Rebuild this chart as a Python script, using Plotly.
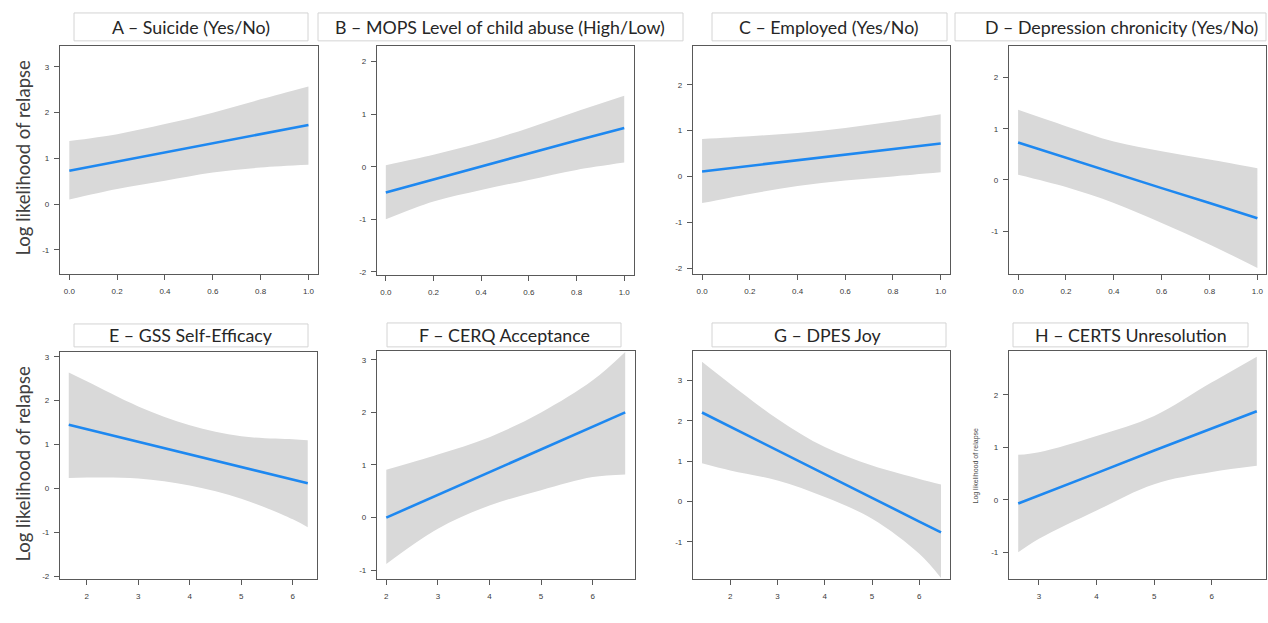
import plotly.graph_objects as go

# ---------------- data ----------------
titles = [
    "A – Suicide (Yes/No)",
    "B – MOPS Level of child abuse (High/Low)",
    "C – Employed (Yes/No)",
    "D – Depression chronicity (Yes/No)",
    "E – GSS Self-Efficacy",
    "F – CERQ Acceptance",
    "G – DPES Joy",
    "H – CERTS Unresolution",
]
y_label = "Log likelihood of relapse"

x_binary = [0.0, 0.2, 0.4, 0.6, 0.8, 1.0]
x_binary_labels = ["0.0", "0.2", "0.4", "0.6", "0.8", "1.0"]

A_fit = [0.73, 0.93, 1.13, 1.33, 1.53, 1.73]
A_lo = [0.10, 0.33, 0.51, 0.69, 0.80, 0.86]
A_hi = [1.38, 1.53, 1.75, 2.00, 2.29, 2.57]

B_fit = [-0.49, -0.24, 0.00, 0.25, 0.50, 0.74]
B_lo = [-1.00, -0.66, -0.44, -0.25, -0.06, 0.08]
B_hi = [0.03, 0.23, 0.46, 0.74, 1.05, 1.35]

C_fit = [0.11, 0.23, 0.35, 0.48, 0.60, 0.72]
C_lo = [-0.58, -0.38, -0.21, -0.09, 0.00, 0.09]
C_hi = [0.82, 0.88, 0.95, 1.06, 1.20, 1.36]

D_fit = [0.73, 0.43, 0.14, -0.16, -0.45, -0.75]
D_lo = [0.10, -0.14, -0.45, -0.84, -1.26, -1.72]
D_hi = [1.37, 1.05, 0.75, 0.56, 0.40, 0.23]

E_x = [1.65, 2, 3, 4, 5, 6, 6.29]
E_fit = [1.45, 1.35, 1.07, 0.78, 0.49, 0.20, 0.12]
E_lo = [0.24, 0.25, 0.23, 0.07, -0.23, -0.70, -0.88]
E_hi = [2.64, 2.44, 1.87, 1.44, 1.19, 1.12, 1.10]

F_x = [2, 3, 4, 5, 6, 6.63]
F_fit = [0.00, 0.43, 0.86, 1.30, 1.73, 2.00]
F_lo = [-0.88, -0.21, 0.23, 0.52, 0.77, 0.82]
F_hi = [0.91, 1.20, 1.53, 2.00, 2.61, 3.15]

G_x = [1.40, 2, 3, 4, 5, 6, 6.46]
G_fit = [2.21, 1.86, 1.27, 0.68, 0.09, -0.50, -0.77]
G_lo = [0.95, 0.77, 0.52, 0.11, -0.43, -1.30, -1.90]
G_hi = [3.47, 2.92, 2.05, 1.35, 0.89, 0.56, 0.42]

H_x = [2.64, 3, 4, 5, 6, 6.78]
H_fit = [-0.07, 0.08, 0.51, 0.94, 1.36, 1.69]
H_lo = [-1.00, -0.74, -0.20, 0.30, 0.53, 0.65]
H_hi = [0.86, 0.91, 1.22, 1.60, 2.24, 2.73]

yticks_A = [-1, 0, 1, 2, 3]
yticks_B = [-2, -1, 0, 1, 2]
yticks_C = [-2, -1, 0, 1, 2]
yticks_D = [-1, 0, 1, 2]
yticks_E = [-2, -1, 0, 1, 2, 3]
yticks_F = [-1, 0, 1, 2, 3]
yticks_G = [-1, 0, 1, 2, 3]
yticks_H = [-1, 0, 1, 2]
xticks_EFG = [2, 3, 4, 5, 6]
xticks_H = [3, 4, 5, 6]

# ---------------- layout configuration ----------------
W, H = 1268, 623

def px_x(p):
    return p / W

def px_y(p):
    return 1 - p / H

panels = [
    dict(x=x_binary, fit=A_fit, lo=A_lo, hi=A_hi, box=(60, 318, 46, 275),
         xr=[-0.039, 1.04], yr=[-1.53, 3.46], xt=x_binary, xtl=x_binary_labels, yt=yticks_A),
    dict(x=x_binary, fit=B_fit, lo=B_lo, hi=B_hi, box=(377, 634, 46, 276),
         xr=[-0.037, 1.041], yr=[-2.06, 2.30], xt=x_binary, xtl=x_binary_labels, yt=yticks_B),
    dict(x=x_binary, fit=C_fit, lo=C_lo, hi=C_hi, box=(693, 950, 46, 275),
         xr=[-0.038, 1.039], yr=[-2.13, 2.85], xt=x_binary, xtl=x_binary_labels, yt=yticks_C),
    dict(x=x_binary, fit=D_fit, lo=D_lo, hi=D_hi, box=(1009, 1266, 46, 275),
         xr=[-0.038, 1.036], yr=[-1.84, 2.62], xt=x_binary, xtl=x_binary_labels, yt=yticks_D),
    dict(x=E_x, fit=E_fit, lo=E_lo, hi=E_hi, box=(60, 317, 353, 581),
         xr=[1.48, 6.47], yr=[-2.06, 3.11], xt=xticks_EFG, xtl=[str(v) for v in xticks_EFG], yt=yticks_E),
    dict(x=F_x, fit=F_fit, lo=F_lo, hi=F_hi, box=(377, 635, 352, 581),
         xr=[1.82, 6.82], yr=[-1.17, 3.17], xt=xticks_EFG, xtl=[str(v) for v in xticks_EFG], yt=yticks_F),
    dict(x=G_x, fit=G_fit, lo=G_lo, hi=G_hi, box=(693, 950, 352, 581),
         xr=[1.21, 6.65], yr=[-1.93, 3.74], xt=xticks_EFG, xtl=[str(v) for v in xticks_EFG], yt=yticks_G),
    dict(x=H_x, fit=H_fit, lo=H_lo, hi=H_hi, box=(1009, 1266, 352, 581),
         xr=[2.48, 6.94], yr=[-1.51, 2.84], xt=xticks_H, xtl=[str(v) for v in xticks_H], yt=yticks_H),
]

title_boxes = [(74, 308, 13, 41), (318, 683, 13, 41), (712, 947, 13, 41), (955, 1266, 13, 41),
               (74, 308, 325, 348), (387, 621, 324, 348), (712, 946, 324, 348), (1013, 1248, 324, 348)]
title_pos = [(191, 27), (500, 27), (828, 27), (1121, 27),
             (191, 336), (504, 336), (828, 336), (1131, 336)]

BAND = "#d9d9d9"
LINE = "#1e88f0"
FRAME = "#595959"
TICKFONT = dict(family="Liberation Sans, Arial", size=8, color="#3a3a3a")

fig = go.Figure()
layout = dict(width=W, height=H, margin=dict(l=0, r=0, t=0, b=0),
              paper_bgcolor="white", plot_bgcolor="white", showlegend=False)

for i, p in enumerate(panels):
    n = i + 1
    xa = "x" if n == 1 else f"x{n}"
    ya = "y" if n == 1 else f"y{n}"
    fig.add_trace(go.Scatter(x=p["x"], y=p["lo"], xaxis=xa, yaxis=ya, mode="lines",
                             line=dict(width=0, shape="spline", color=BAND), hoverinfo="skip"))
    fig.add_trace(go.Scatter(x=p["x"], y=p["hi"], xaxis=xa, yaxis=ya, mode="lines",
                             line=dict(width=0, shape="spline", color=BAND), fill="tonexty",
                             fillcolor=BAND, hoverinfo="skip"))
    fig.add_trace(go.Scatter(x=p["x"], y=p["fit"], xaxis=xa, yaxis=ya, mode="lines",
                             line=dict(width=2.6, color=LINE)))
    l, r, t, b = p["box"]
    axis_common = dict(showgrid=False, zeroline=False, showline=True, mirror=True,
                       linecolor=FRAME, linewidth=1.3, ticks="outside", ticklen=5,
                       tickcolor=FRAME, tickwidth=1, tickfont=TICKFONT)
    layout["xaxis" if n == 1 else f"xaxis{n}"] = dict(
        domain=[px_x(l), px_x(r)], range=p["xr"], anchor=ya,
        tickvals=p["xt"], ticktext=p["xtl"], ticklabelstandoff=4, **axis_common)
    layout["yaxis" if n == 1 else f"yaxis{n}"] = dict(
        domain=[px_y(b), px_y(t)], range=p["yr"], anchor=xa,
        tickvals=p["yt"], ticktext=[str(v) for v in p["yt"]], ticklabelstandoff=3, **axis_common)

shapes = []
annotations = []
for (l, r, t, b) in title_boxes:
    shapes.append(dict(type="rect", xref="paper", yref="paper",
                       x0=px_x(l), x1=px_x(r), y0=px_y(b), y1=px_y(t),
                       line=dict(color="#d4d4d4", width=1), fillcolor="rgba(0,0,0,0)", layer="below"))
for txt, (cx, cy) in zip(titles, title_pos):
    annotations.append(dict(text=txt, xref="paper", yref="paper", x=px_x(cx), y=px_y(cy),
                            xanchor="center", yanchor="middle", showarrow=False,
                            font=dict(family="Lato, Open Sans, sans-serif", size=17.8, color="#262626")))
for cy in (159, 466):
    annotations.append(dict(text=y_label, xref="paper", yref="paper", x=px_x(23), y=px_y(cy),
                            xanchor="center", yanchor="middle", showarrow=False, textangle=-90,
                            font=dict(family="Lato, Open Sans, sans-serif", size=18.5, color="#404040")))
annotations.append(dict(text=y_label, xref="paper", yref="paper", x=px_x(976), y=px_y(467),
                        xanchor="center", yanchor="middle", showarrow=False, textangle=-90,
                        font=dict(family="Liberation Sans, Arial", size=7, color="#4a4a4a")))

layout["shapes"] = shapes
layout["annotations"] = annotations
fig.update_layout(**layout)
# remove the default page margin so the figure fills the window exactly
fig.write_html("out.html", config={"displayModeBar": False},
               post_script="document.body.style.margin='0';document.body.style.overflow='hidden';")
